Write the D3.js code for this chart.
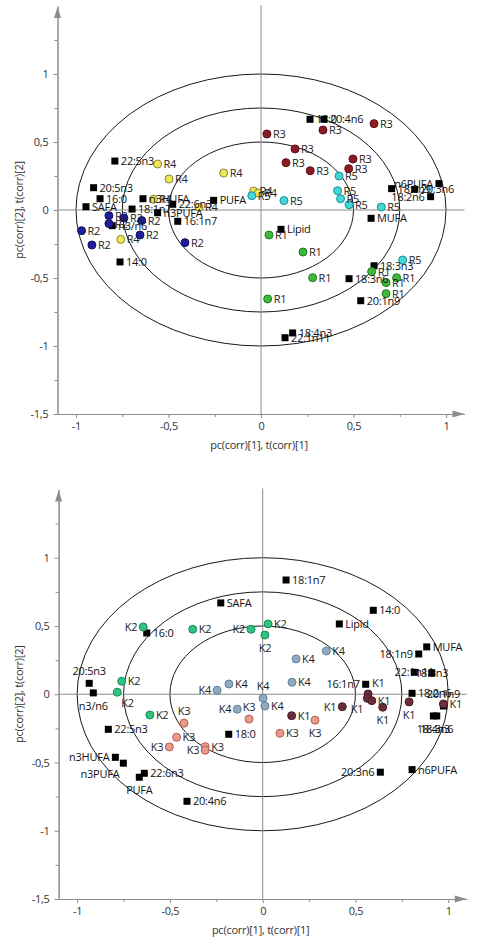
<!DOCTYPE html>
<html>
<head>
<meta charset="utf-8">
<script src="https://cdn.jsdelivr.net/npm/d3@7"></script>
<style>
  body { margin: 0; background: #fff; }
  text { font-family: "Open Sans", "Noto Sans", sans-serif; letter-spacing: -0.25px; }
</style>
</head>
<body>
<svg id="chart" width="492" height="951"></svg>
<script>
// ---- top plot: loadings (variables) ----
const topVarNames = ["22:5n3", "20:5n3", "16:0", "SAFA", "18:1n7", "n3HUFA", "22:6n3", "n3PUFA", "16:1n7", "PUFA",
  "n3/n6", "14:0", "18:0", "20:4n6", "18:1n9", "20:3n6", "n6PUFA", "18:2n6", "MUFA", "Lipid",
  "18:3n3", "18:3n6", "20:1n9", "18:4n3", "22:1n11"];
const topVarX = [-0.79, -0.905, -0.87, -0.946, -0.697, -0.638, -0.477, -0.559, -0.45, -0.256,
  -0.804, -0.762, 0.265, 0.34, 0.706, 0.831, 0.962, 0.917, 0.595, 0.108,
  0.611, 0.476, 0.539, 0.171, 0.13];
const topVarY = [0.36, 0.164, 0.083, 0.024, 0.007, 0.083, 0.042, -0.02, -0.083, 0.071,
  -0.115, -0.382, 0.667, 0.667, 0.157, 0.152, 0.194, 0.098, -0.061, -0.142,
  -0.41, -0.505, -0.667, -0.904, -0.939];

// ---- top plot: scores ----
const r1 = [[0.043, -0.184], [0.227, -0.309], [0.279, -0.498], [0.036, -0.654], [0.598, -0.453], [0.733, -0.498], [0.676, -0.534], [0.676, -0.615]];
const r2 = [[-0.97, -0.152], [-0.914, -0.257], [-0.822, -0.042], [-0.822, -0.1], [-0.741, -0.059], [-0.645, -0.078], [-0.654, -0.184], [-0.411, -0.24]];
const r3 = [[0.611, 0.635], [0.335, 0.588], [0.032, 0.559], [0.184, 0.449], [0.135, 0.348], [0.497, 0.375], [0.474, 0.304], [0.266, 0.289]];
const r4 = [[-0.559, 0.338], [-0.497, 0.228], [-0.202, 0.272], [-0.04, 0.14], [-0.015, 0.125], [-0.335, 0.02], [-0.582, 0.079], [-0.758, -0.216]];
const r5 = [[0.422, 0.25], [0.414, 0.142], [0.43, 0.083], [0.476, 0.039], [0.65, 0.022], [0.124, 0.069], [-0.05, 0.105], [0.766, -0.368]];

// ---- bottom plot: loadings ----
const botVarNames = ["18:1n7", "SAFA", "14:0", "Lipid", "16:0", "MUFA", "18:1n9", "22:1n11", "18:3n3", "20:5n3",
  "n3/n6", "16:1n7", "18:2n6", "20:1n9", "18:4n3", "18:3n6", "22:5n3", "18:0", "n3HUFA", "n3PUFA",
  "22:6n3", "PUFA", "20:4n6", "20:3n6", "n6PUFA"];
const botVarX = [0.126, -0.226, 0.596, 0.413, -0.625, 0.884, 0.841, 0.817, 0.911, -0.935,
  -0.913, 0.555, 0.805, 0.974, 0.92, 0.938, -0.832, -0.183, -0.794, -0.751,
  -0.638, -0.665, -0.408, 0.634, 0.805];
const botVarY = [0.837, 0.669, 0.615, 0.515, 0.449, 0.347, 0.295, 0.161, 0.156, 0.08,
  0.01, 0.073, 0.007, -0.086, -0.159, -0.159, -0.257, -0.293, -0.462, -0.505,
  -0.579, -0.608, -0.784, -0.571, -0.552];

// ---- bottom plot: scores ----
const k1 = [[0.156, -0.157], [0.429, -0.091], [0.568, 0.002], [0.564, -0.03], [0.588, -0.047], [0.647, -0.095], [0.789, -0.056], [0.974, -0.071]];
const k2 = [[-0.644, 0.493], [-0.377, 0.476], [-0.063, 0.476], [0.029, 0.515], [0.012, 0.434], [-0.76, 0.095], [-0.784, 0.015], [-0.608, -0.152]];
const k3 = [[-0.424, -0.212], [-0.464, -0.315], [-0.503, -0.386], [-0.31, -0.384], [-0.31, -0.41], [-0.074, -0.182], [0.093, -0.286], [0.282, -0.19]];
const k4 = [[0.343, 0.317], [0.18, 0.259], [0.158, 0.088], [-0.182, 0.075], [-0.246, 0.029], [0.002, -0.029], [0.012, -0.086], [-0.137, -0.11]];

const ringRadii = [0.5, 0.75, 1];
const yMajor = [-1.5, -1, -0.5, 0, 0.5, 1];
const yMinor = [-1.25, -0.75, -0.25, 0.25, 0.75, 1.25];
const xMajor = [-1, -0.5, 0, 0.5, 1];
const xMinor = [-0.75, -0.25, 0.25, 0.75];

// label placement (layout only)
const topVarSide = { "n6PUFA": "l", "18:2n6": "l" };
const botVarSide = { "18:1n9": "l", "22:1n11": "c", "18:3n3": "c", "20:5n3": "t", "n3/n6": "b", "16:1n7": "l",
  "20:1n9": "t", "18:4n3": "b", "18:3n6": "b", "n3HUFA": "l", "n3PUFA": "bl", "PUFA": "b", "20:3n6": "l" };
const k1Side = ["r", "l", "tr", "bl", "r", "b", "b", "r"];
const k2Side = ["l", "r", "l", "r", "b", "r", "br", "r"];
const k3Side = ["t", "r", "l", "r", "l", "t", "r", "b"];
const k4Side = ["r", "r", "r", "r", "l", "t", "r", "l"];

const place = {
  r: [6, 0, "start"], l: [-6, 0, "end"], t: [0, -12, "middle"], b: [0, 13, "middle"],
  br: [4, 11, "start"], bl: [-4, 11, "end"], tr: [4, -11, "start"], c: [0, 0, "middle"]
};

const locale = d3.formatLocale({ decimal: ",", thousands: ".", grouping: [3], currency: ["", ""], minus: "-" });
const fmt = locale.format(".1~f");

const svg = d3.select("#chart");

function drawPanel(box, variables, groups) {
  const x = d3.scaleLinear().domain([-1.1, 1.1]).range([box.left, box.right]);
  const y = d3.scaleLinear().domain([-1.5, 1.5]).range([box.bottom, box.top]);
  const g = svg.append("g");

  // rings
  g.selectAll("ellipse.ring").data(ringRadii).join("ellipse")
    .attr("class", "ring")
    .attr("cx", x(0)).attr("cy", y(0))
    .attr("rx", (r) => x(r) - x(0))
    .attr("ry", (r) => y(0) - y(r))
    .attr("fill", "none").attr("stroke", "#1a1a1a").attr("stroke-width", 1);

  // crosshair
  g.append("line").attr("x1", x(0)).attr("x2", x(0)).attr("y1", y(1.5) - 1).attr("y2", y(-1.5))
    .attr("stroke", "#8c8c8c");
  g.append("line").attr("x1", x(-1.1)).attr("x2", x(1.1)).attr("y1", y(0)).attr("y2", y(0))
    .attr("stroke", "#8c8c8c");

  // axes
  const yAxis = g.append("g").attr("transform", `translate(${box.left},0)`)
    .call(d3.axisLeft(y).tickValues(yMajor).tickFormat(fmt).tickSize(4).tickSizeOuter(0));
  g.append("g").attr("transform", `translate(${box.left},0)`)
    .call(d3.axisLeft(y).tickValues(yMinor).tickFormat("").tickSize(3).tickSizeOuter(0));
  const xAxis = g.append("g").attr("transform", `translate(0,${box.bottom})`)
    .call(d3.axisBottom(x).tickValues(xMajor).tickFormat(fmt).tickSize(4).tickSizeOuter(0));
  g.append("g").attr("transform", `translate(0,${box.bottom})`)
    .call(d3.axisBottom(x).tickValues(xMinor).tickFormat("").tickSize(3).tickSizeOuter(0));
  g.selectAll(".domain, .tick line").attr("stroke", "#8c8c8c");
  g.selectAll(".tick text").attr("fill", "#333").style("font-size", "11px")
    .style("font-family", "\"Open Sans\", sans-serif");
  yAxis.selectAll(".tick text").attr("x", -9);
  xAxis.selectAll(".tick text").attr("y", 8);

  // arrows
  g.append("path")
    .attr("d", `M${box.left},${box.top + 1}L${box.left - 3.5},${box.top + 12}L${box.left + 3.5},${box.top + 12}Z`)
    .attr("fill", "#8c8c8c");
  g.append("path")
    .attr("d", `M${box.right},${box.bottom}L${box.right - 12},${box.bottom - 3.5}L${box.right - 12},${box.bottom + 3.5}Z`)
    .attr("fill", "#8c8c8c");

  // axis titles
  g.append("text").attr("x", (box.left + box.right) / 2 - 2).attr("y", box.bottom + 35)
    .attr("text-anchor", "middle").attr("fill", "#333").style("font-size", "11px")
    .text("pc(corr)[1], t(corr)[1]");
  g.append("text")
    .attr("transform", `translate(23,${(box.top + box.bottom) / 2}) rotate(-90)`)
    .attr("text-anchor", "middle").attr("fill", "#333").style("font-size", "11px")
    .text("pc(corr)[2], t(corr)[2]");

  // variables (squares)
  const vars = variables.names.map((n, i) => ({ name: n, x: variables.xs[i], y: variables.ys[i], side: variables.side[n] || "r" }));
  g.selectAll("rect.var").data(vars).join("rect")
    .attr("class", "var")
    .attr("x", (d) => x(d.x) - 3.5).attr("y", (d) => y(d.y) - 3.5)
    .attr("width", 7).attr("height", 7).attr("fill", "#000");

  // scores (circles)
  const scores = [];
  groups.forEach((grp) => {
    grp.points.forEach((p, i) => scores.push({ x: p[0], y: p[1], label: grp.label, fill: grp.fill, stroke: grp.stroke, side: grp.side ? grp.side[i] : "r" }));
  });
  g.selectAll("circle.score").data(scores).join("circle")
    .attr("class", "score")
    .attr("cx", (d) => x(d.x)).attr("cy", (d) => y(d.y)).attr("r", 4)
    .attr("fill", (d) => d.fill).attr("stroke", (d) => d.stroke).attr("stroke-width", 1);

  // labels
  const labels = vars.map((d) => ({ x: d.x, y: d.y, text: d.name, side: d.side, color: "#111" }))
    .concat(scores.map((d) => ({ x: d.x, y: d.y, text: d.label, side: d.side, color: "#222" })));
  g.selectAll("text.lab").data(labels).join("text")
    .attr("class", "lab")
    .attr("x", (d) => x(d.x) + place[d.side][0])
    .attr("y", (d) => y(d.y) + place[d.side][1])
    .attr("dy", "0.36em")
    .attr("text-anchor", (d) => place[d.side][2])
    .attr("fill", (d) => d.color)
    .style("font-size", "11px")
    .text((d) => d.text);
}

drawPanel({ left: 57.5, right: 464.5, top: 6, bottom: 414 },
  { names: topVarNames, xs: topVarX, ys: topVarY, side: topVarSide },
  [
    { label: "R1", points: r1, fill: "#3dba3d", stroke: "#1f7a1f" },
    { label: "R2", points: r2, fill: "#1e1e9c", stroke: "#12125e" },
    { label: "R3", points: r3, fill: "#8c1b24", stroke: "#5c1016" },
    { label: "R4", points: r4, fill: "#eee75c", stroke: "#85852a" },
    { label: "R5", points: r5, fill: "#42d8d8", stroke: "#1c8c98" }
  ]);

drawPanel({ left: 58.6, right: 466.8, top: 489.5, bottom: 899 },
  { names: botVarNames, xs: botVarX, ys: botVarY, side: botVarSide },
  [
    { label: "K1", points: k1, fill: "#6c2d3b", stroke: "#4a1d27", side: k1Side },
    { label: "K2", points: k2, fill: "#2fc280", stroke: "#1b8a56", side: k2Side },
    { label: "K3", points: k3, fill: "#e89b8b", stroke: "#b55c4c", side: k3Side },
    { label: "K4", points: k4, fill: "#90aac0", stroke: "#60809a", side: k4Side }
  ]);
</script>
</body>
</html>
